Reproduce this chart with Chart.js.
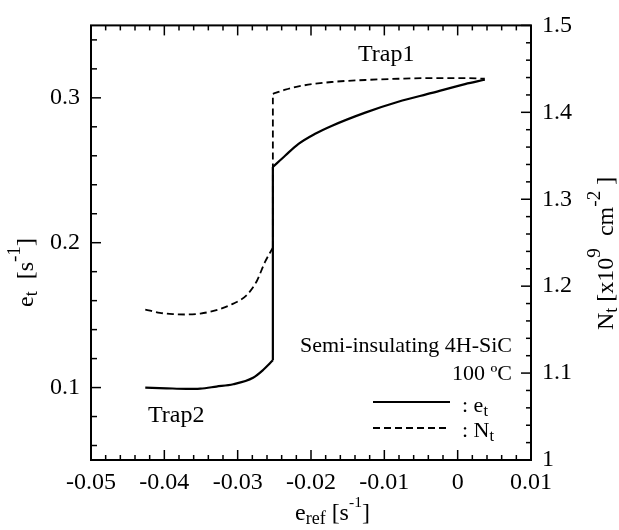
<!DOCTYPE html>
<html>
<head>
<meta charset="utf-8">
<script src="https://cdn.jsdelivr.net/npm/chart.js@4.4.0/dist/chart.umd.min.js"></script>
<style>
  html, body { margin: 0; padding: 0; background: #fff; }
  canvas { display: block; }
</style>
</head>
<body>
<canvas id="chart" width="619" height="530"></canvas>
<script>
// e_t (left axis, solid): Trap2 branch, then Trap1 branch after the jump at e_ref = -0.0252
const etLowX = [-0.0426, -0.0397, -0.0370, -0.0351, -0.0329, -0.0306, -0.0279, -0.0265, -0.0252];
const etLowY = [0.1000, 0.0995, 0.0991, 0.0993, 0.1007, 0.1023, 0.1068, 0.1123, 0.1188];
const etHighX = [-0.0252, -0.0235, -0.0217, -0.0195, -0.0172, -0.0126, -0.0081, -0.0035, 0.0010, 0.0037];
const etHighY = [0.2523, 0.2602, 0.2682, 0.2750, 0.2806, 0.2898, 0.2973, 0.3034, 0.3095, 0.3125];

// N_t (right axis, dashed, x1e9 cm^-2)
const ntLowX = [-0.0426, -0.0406, -0.0388, -0.0370, -0.0351, -0.0329, -0.0306, -0.0288, -0.0274, -0.0263, -0.0252];
const ntLowY = [1.1731, 1.1693, 1.1678, 1.1674, 1.1685, 1.1724, 1.1799, 1.1894, 1.2057, 1.2273, 1.2443];
const ntHighX = [-0.0252, -0.0235, -0.0217, -0.0172, -0.0126, -0.0081, -0.0035, 0.0010, 0.0037];
const ntHighY = [1.4212, 1.4261, 1.4299, 1.4349, 1.4372, 1.4386, 1.4394, 1.4394, 1.4386];

const xTicks = [-0.05, -0.04, -0.03, -0.02, -0.01, 0, 0.01];
const xLabels = ['-0.05', '-0.04', '-0.03', '-0.02', '-0.01', '0', '0.01'];
const etTicks = [0.1, 0.2, 0.3];
const etLabels = ['0.1', '0.2', '0.3'];
const ntTicks = [1, 1.1, 1.2, 1.3, 1.4, 1.5];
const ntLabels = ['1', '1.1', '1.2', '1.3', '1.4', '1.5'];

const FONT = "'Liberation Serif', 'Times New Roman', serif";

// draw text made of pieces: [text, mode] with mode '', 'sub' or 'sup'
function rich(ctx, parts, x, y, size, align, angle, supScale) {
  supScale = supScale || 0.65;
  ctx.save();
  ctx.translate(x, y);
  if (angle) ctx.rotate(angle);
  ctx.fillStyle = '#000';
  ctx.textBaseline = 'alphabetic';
  ctx.textAlign = 'left';
  const sz = m => m === 'sub' ? size * 0.75 : m === 'sup' ? size * supScale : size;
  let w = 0;
  parts.forEach(p => { ctx.font = sz(p[1]) + 'px ' + FONT; w += ctx.measureText(p[0]).width; });
  let cx = align === 'right' ? -w : align === 'center' ? -w / 2 : 0;
  parts.forEach(p => {
    ctx.font = sz(p[1]) + 'px ' + FONT;
    const dy = p[1] === 'sub' ? size * 0.17 : p[1] === 'sup' ? -size * 0.55 : 0;
    ctx.fillText(p[0], cx, dy);
    cx += ctx.measureText(p[0]).width;
  });
  ctx.restore();
}

const frame = {
  id: 'frame',
  afterDraw(chart) {
    const {ctx, chartArea: a, scales} = chart;
    ctx.save();
    ctx.strokeStyle = '#000';
    ctx.lineWidth = 2;
    ctx.strokeRect(a.left, a.top, a.right - a.left, a.bottom - a.top);
    ctx.lineWidth = 1.5;
    const line = (x1, y1, x2, y2) => { ctx.beginPath(); ctx.moveTo(x1, y1); ctx.lineTo(x2, y2); ctx.stroke(); };
    // x ticks, bottom and top, pointing inward
    for (let i = 0; i <= 30; i++) {
      const px = scales.x.getPixelForValue(-0.05 + i * 0.002);
      const len = i % 5 === 0 ? 10 : 5;
      line(px, a.bottom, px, a.bottom - len);
      line(px, a.top, px, a.top + len);
    }
    // left ticks
    for (let i = 0; i <= 14; i++) {
      const v = 0.06 + i * 0.02;
      const py = scales.y.getPixelForValue(v);
      const major = Math.abs(v * 10 - Math.round(v * 10)) < 1e-6;
      line(a.left, py, a.left + (major ? 10 : 6), py);
    }
    // right ticks
    for (let i = 0; i <= 25; i++) {
      const v = 1 + i * 0.02;
      const py = scales.y1.getPixelForValue(v);
      const major = i % 5 === 0;
      line(a.right, py, a.right - (major ? 10 : 5), py);
    }

    // axis titles
    rich(ctx, [['e', ''], ['ref', 'sub'], [' [', ''], ['s', ''], ['-1', 'sup'], [']', '']], 295, 520, 24, 'left');
    rich(ctx, [['e', ''], ['t', 'sub'], ['  [', ''], ['s', ''], ['-1', 'sup'], [']', '']], 33, 307, 24, 'left', -Math.PI / 2, 0.8);
    rich(ctx, [['N', ''], ['t', 'sub'], [' [x10', ''], ['9', 'sup'], ['  cm', ''], ['-2', 'sup'], [' ]', '']], 613, 330, 24, 'left', -Math.PI / 2, 0.8);

    // annotations
    rich(ctx, [['Trap1', '']], 358, 61, 24, 'left');
    rich(ctx, [['Trap2', '']], 148, 422, 24, 'left');
    rich(ctx, [['Semi-insulating 4H-SiC', '']], 512, 352, 22, 'right');
    rich(ctx, [['100 \u00baC', '']], 512, 380, 22, 'right');

    // legend
    ctx.lineWidth = 2;
    line(373, 402, 450, 402);
    ctx.setLineDash([7, 4]);
    line(373, 428, 450, 428);
    ctx.setLineDash([]);
    rich(ctx, [[': e', ''], ['t', 'sub']], 462, 412, 22, 'left');
    rich(ctx, [[': N', ''], ['t', 'sub']], 462, 437, 22, 'left');
    ctx.restore();
  }
};

const pts = (xs, ys) => xs.map((x, i) => ({x: x, y: ys[i]}));
const solid = {yAxisID: 'y', borderColor: '#000', borderWidth: 2.2, pointRadius: 0, fill: false,
               cubicInterpolationMode: 'monotone'};
const dashed = {yAxisID: 'y1', borderColor: '#000', borderWidth: 1.8, borderDash: [7, 4], pointRadius: 0,
                fill: false, cubicInterpolationMode: 'monotone'};
const tickFont = {family: FONT, size: 24};

new Chart(document.getElementById('chart'), {
  type: 'line',
  data: {
    datasets: [
      Object.assign({label: 'e_t Trap2', data: pts(etLowX, etLowY)}, solid),
      Object.assign({label: 'e_t jump', data: [
        {x: etLowX[etLowX.length - 1], y: etLowY[etLowY.length - 1]}, {x: etHighX[0], y: etHighY[0]}]}, solid),
      Object.assign({label: 'e_t Trap1', data: pts(etHighX, etHighY)}, solid),
      Object.assign({label: 'N_t Trap2', data: pts(ntLowX, ntLowY)}, dashed),
      Object.assign({label: 'N_t jump', data: [
        {x: ntLowX[ntLowX.length - 1], y: ntLowY[ntLowY.length - 1]}, {x: ntHighX[0], y: ntHighY[0]}]}, dashed),
      Object.assign({label: 'N_t Trap1', data: pts(ntHighX, ntHighY)}, dashed)
    ]
  },
  options: {
    responsive: false,
    animation: false,
    devicePixelRatio: 1,
    layout: {padding: {top: 20, left: 0, right: 0, bottom: 0}},
    plugins: {legend: {display: false}, tooltip: {enabled: false}},
    scales: {
      x: {
        type: 'linear',
        min: -0.05,
        max: 0.01,
        afterFit(s) { s.height = 70; },
        afterBuildTicks(s) { s.ticks = xTicks.map(v => ({value: v})); },
        grid: {display: false, drawTicks: false},
        border: {display: false},
        ticks: {padding: 8, color: '#000', font: tickFont, maxRotation: 0, autoSkip: false,
                callback: (v, i) => xLabels[i]}
      },
      y: {
        position: 'left',
        min: 0.05,
        max: 0.35,
        afterFit(s) { s.width = 91; },
        afterBuildTicks(s) { s.ticks = etTicks.map(v => ({value: v})); },
        grid: {display: false, drawTicks: false},
        border: {display: false},
        ticks: {padding: 11, color: '#000', font: tickFont, callback: (v, i) => etLabels[i]}
      },
      y1: {
        position: 'right',
        min: 1,
        max: 1.5,
        afterFit(s) { s.width = 88; },
        afterBuildTicks(s) { s.ticks = ntTicks.map(v => ({value: v})); },
        grid: {display: false, drawTicks: false},
        border: {display: false},
        ticks: {padding: 11, color: '#000', font: tickFont, callback: (v, i) => ntLabels[i]}
      }
    }
  },
  plugins: [frame]
});
</script>
</body>
</html>
